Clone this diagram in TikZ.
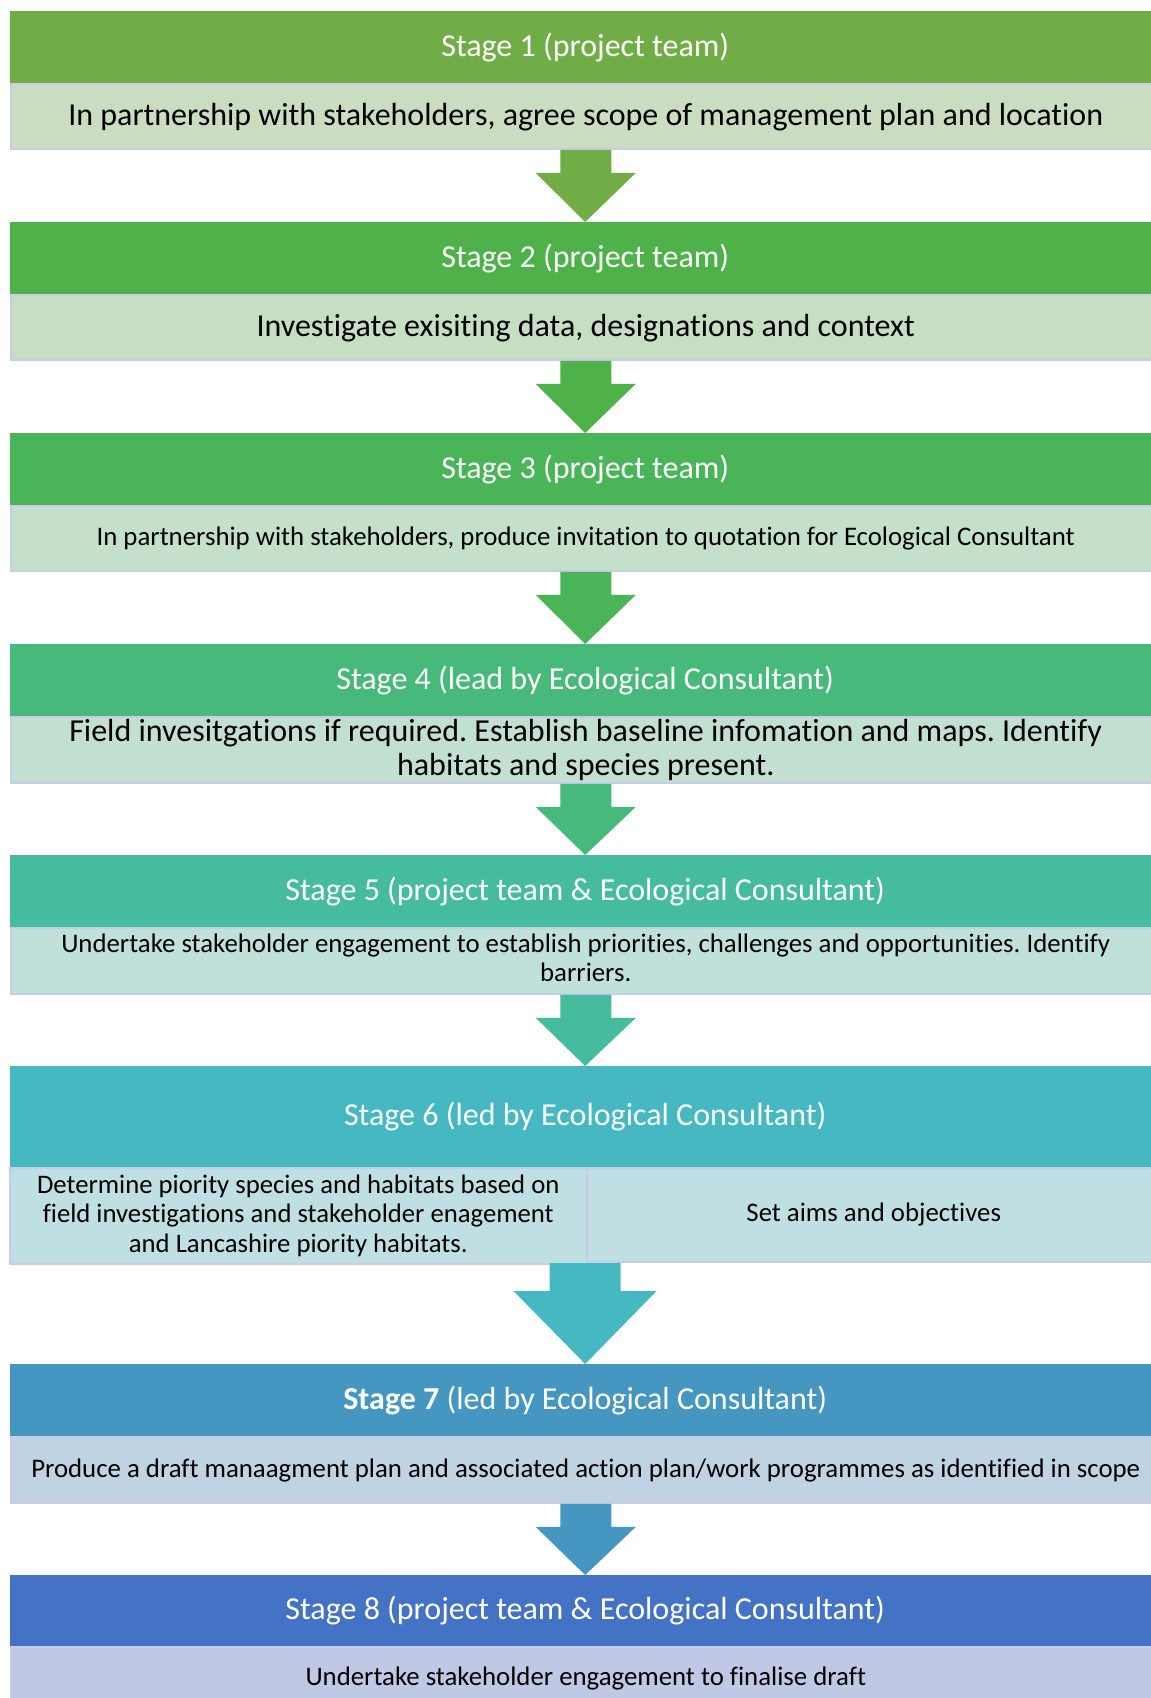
\documentclass[tikz,border=0pt]{standalone}
\usepackage{fontspec}
\setmainfont{Carlito}[Ligatures={NoCommon}]
\usetikzlibrary{calc}
\frenchspacing

% header fills, green through blue
\definecolor{hA}{HTML}{70AD47}
\definecolor{hB}{HTML}{4FB149}
\definecolor{hC}{HTML}{4AB458}
\definecolor{hD}{HTML}{47B97A}
\definecolor{hE}{HTML}{45BC9D}
\definecolor{hF}{HTML}{46B8C1}
\definecolor{hG}{HTML}{4596C1}
\definecolor{hH}{HTML}{4472C4}
% light body fills
\definecolor{bA}{HTML}{CADDC1}
\definecolor{bB}{HTML}{C6DFC3}
\definecolor{bC}{HTML}{C4E0CA}
\definecolor{bD}{HTML}{C2E0D2}
\definecolor{bE}{HTML}{C0E1DA}
\definecolor{bF}{HTML}{C0DFE2}
\definecolor{bG}{HTML}{C0D3E3}
\definecolor{bH}{HTML}{BFC9E5}
\definecolor{edge}{HTML}{C8CCE6}

% block arrow: #1 start anchor, #2 end anchor, #3 shaft half width,
% #4 head half width, #5 shaft length, #6 colour
\newcommand{\blockdown}[6]{%
  \fill[#6] ($(#1)+(-#3,0)$) -- ($(#1)+(#3,0)$) -- ($(#1)+(#3,#5)$)
    -- ($(#1)+(#4,#5)$) -- (#2) -- ($(#1)+(-#4,#5)$)
    -- ($(#1)+(-#3,#5)$) -- cycle;}

\begin{document}
\begin{tikzpicture}[x=1pt,y=-1pt,
  hdr/.style={rectangle, anchor=north west, minimum width=1150pt,
    minimum height=72pt, inner sep=0pt, text=white,
    font=\fontsize{32}{38}\selectfont},
  bdy/.style={rectangle, anchor=north west, minimum width=1150pt,
    minimum height=65pt, inner sep=0pt, draw=edge, line width=1.5pt,
    align=center, text=black, font=\fontsize{32}{34}\selectfont},
  small/.style={font=\fontsize{26.8}{30}\selectfont},
]
\useasboundingbox (0,0) rectangle (1151,1698);
\fill[white] (0,0) rectangle (1151,1698);

% Stage 1
\node[hdr, fill=hA] (h1) at (10,11) {Stage 1 (project team)};
\node[bdy, fill=bA] (b1) at (h1.south west)
  {In partnership with stakeholders, agree scope of management plan and location};

% Stage 2
\node[hdr, fill=hB] (h2) at (10,222) {Stage 2 (project team)};
\node[bdy, fill=bB] (b2) at (h2.south west)
  {Investigate exisiting data, designations and context};

% Stage 3
\node[hdr, fill=hC] (h3) at (10,433) {Stage 3 (project team)};
\node[bdy, fill=bC, small] (b3) at (h3.south west)
  {In partnership with stakeholders, produce invitation to quotation for Ecological Consultant};

% Stage 4
\node[hdr, fill=hD] (h4) at (10,644) {Stage 4 (lead by Ecological Consultant)};
\node[bdy, fill=bD, minimum height=66pt] (b4) at (h4.south west)
  {Field invesitgations if required. Establish baseline infomation and maps. Identify\\
   habitats and species present.};

% Stage 5
\node[hdr, fill=hE] (h5) at (10,855) {Stage 5 (project team \& Ecological Consultant)};
\node[bdy, fill=bE, minimum height=66pt, small] (b5) at (h5.south west)
  {\raisebox{3pt}{\begin{tabular}{@{}c@{}}Undertake stakeholder engagement to establish priorities, challenges and opportunities. Identify\\[-1pt]
   barriers.\end{tabular}}};

% Stage 6
\node[hdr, fill=hF, minimum height=101pt] (h6) at (10,1066)
  {Stage 6 (led by Ecological Consultant)};
\node[bdy, fill=bF, minimum width=574pt, minimum height=94pt, small] (b6r)
  at (586,1167) {Set aims and objectives};
\node[bdy, fill=bF, minimum width=577pt, minimum height=96pt,
  font=\fontsize{26.7}{29.5}\selectfont] (b6l) at (9,1167)
  {Determine piority species and habitats based on\\
   field investigations and stakeholder enagement\\
   and Lancashire piority habitats.};
\coordinate (b6) at (585,1263);

% Stage 7
\node[hdr, fill=hG] (h7) at (10,1364)
  {\textbf{Stage 7} (led by Ecological Consultant)};
\node[bdy, fill=bG, minimum height=66pt, small] (b7) at (h7.south west)
  {Produce a draft manaagment plan and associated action plan/work programmes as identified in scope};

% Stage 8
\node[hdr, fill=hH, minimum height=71pt] (h8) at (10,1575)
  {Stage 8 (project team \& Ecological Consultant)};
\node[bdy, fill=bH, minimum height=62pt, small] (b8) at (h8.south west)
  {Undertake stakeholder engagement to finalise draft};

% arrows between stages
\blockdown{b1.south}{h2.north}{25.5}{50}{23}{hA}
\blockdown{b2.south}{h3.north}{25.5}{50}{23}{hB}
\blockdown{b3.south}{h4.north}{25.5}{50}{23}{hC}
\blockdown{b4.south}{h5.north}{25.5}{50}{23}{hD}
\blockdown{b5.south}{h6.north}{25.5}{50}{23}{hE}
\blockdown{b6}{h7.north}{35.5}{71.5}{28}{hF}
\blockdown{b7.south}{h8.north}{25.5}{50}{23}{hG}
\end{tikzpicture}
\end{document}
